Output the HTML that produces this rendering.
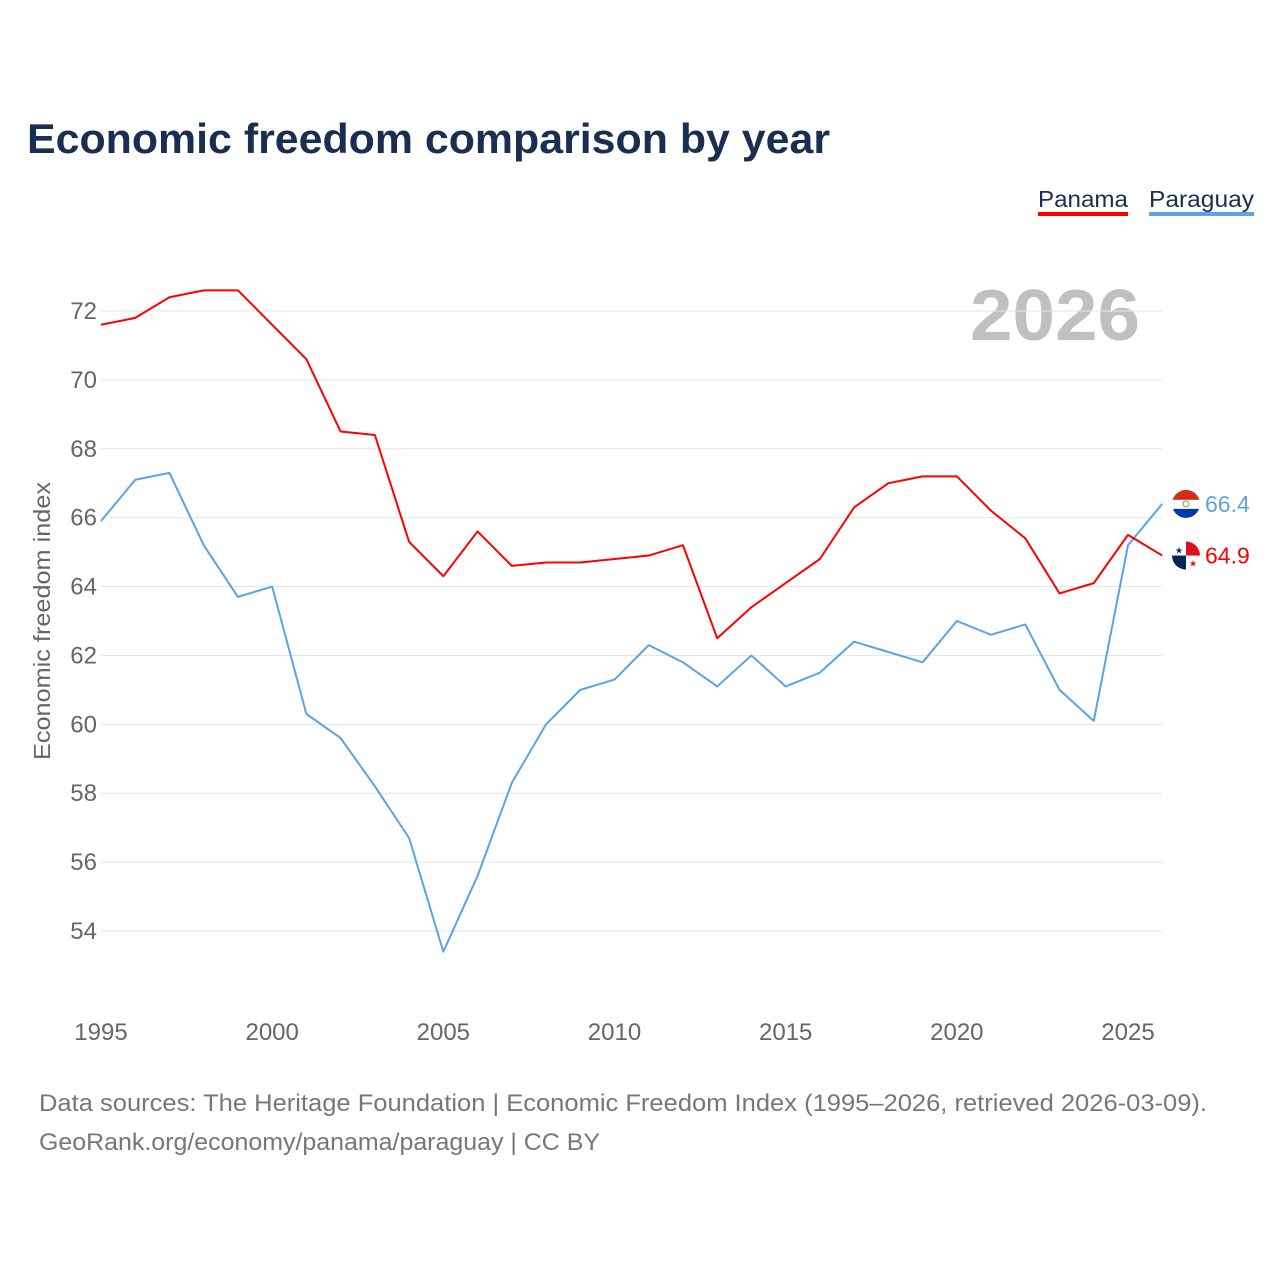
<!DOCTYPE html>
<html><head><meta charset="utf-8"><style>
body{margin:0;background:#fff;font-family:"Liberation Sans",sans-serif;}
#wrap{position:relative;width:1280px;height:1280px;overflow:hidden;}
</style></head><body>
<div id="wrap">
<svg id="chart" width="1280" height="1280"></svg>
</div>
<script>
const years=[1995,1996,1997,1998,1999,2000,2001,2002,2003,2004,2005,2006,2007,2008,2009,2010,2011,2012,2013,2014,2015,2016,2017,2018,2019,2020,2021,2022,2023,2024,2025,2026];
const panama=[71.6,71.8,72.4,72.6,72.6,71.6,70.6,68.5,68.4,65.3,64.3,65.6,64.6,64.7,64.7,64.8,64.9,65.2,62.5,63.4,64.1,64.8,66.3,67.0,67.2,67.2,66.2,65.4,63.8,64.1,65.5,64.9];
const paraguay=[65.9,67.1,67.3,65.2,63.7,64.0,60.3,59.6,58.2,56.7,53.4,55.6,58.3,60.0,61.0,61.3,62.3,61.8,61.1,62.0,61.1,61.5,62.4,62.1,61.8,63.0,62.6,62.9,61.0,60.1,65.2,66.4];
const yTicks=[54,56,58,60,62,64,66,68,70,72];
const xTicks=[1995,2000,2005,2010,2015,2020,2025];
const NS="http://www.w3.org/2000/svg";
const svg=document.getElementById('chart');
const X=y=>101+(y-1995)*(1128-101)/30;
const Y=v=>311+(72-v)*(931-311)/18;
function el(t,a,txt){const e=document.createElementNS(NS,t);for(const k in a)e.setAttribute(k,a[k]);if(txt!==undefined)e.textContent=txt;svg.appendChild(e);return e;}
const FF='"Liberation Sans",sans-serif';
let t=el('text',{x:27,y:153,'font-size':42,'font-weight':'bold',fill:'#1a2e50','font-family':FF,textLength:803,lengthAdjust:'spacingAndGlyphs'},'Economic freedom comparison by year');


t=el('text',{x:1038,y:207,'font-size':23,fill:'#1a2e50','font-family':FF,textLength:90,lengthAdjust:'spacingAndGlyphs'},'Panama');


let r=el('rect',{x:1038,y:212,width:90,height:4,fill:'#ff0000'});


t=el('text',{x:1149,y:207,'font-size':23,fill:'#1a2e50','font-family':FF,textLength:105,lengthAdjust:'spacingAndGlyphs'},'Paraguay');


r=el('rect',{x:1149,y:212,width:105,height:4,fill:'#5ba3e8'});


t=el('text',{x:1140,y:340,'font-size':72,'font-weight':'bold',fill:'#c0c0c0','text-anchor':'end','font-family':FF,textLength:170,lengthAdjust:'spacingAndGlyphs'},'2026');


yTicks.forEach(v=>{
 const g=el('line',{x1:101,x2:1162,y1:Y(v),y2:Y(v),stroke:'#e6e6e6','stroke-width':1});
 
 
 const l=el('text',{x:97,y:Y(v)+8,'font-size':24,fill:'#666','text-anchor':'end','font-family':FF},v);
 
 
});
xTicks.forEach(v=>{
 const l=el('text',{x:X(v),y:1040,'font-size':24,fill:'#666','text-anchor':'middle','font-family':FF},v);
 
 
});
t=el('text',{x:0,y:0,'font-size':23,fill:'#666','text-anchor':'middle','font-family':FF,transform:'translate(50,621) rotate(-90)',textLength:278,lengthAdjust:'spacingAndGlyphs'},'Economic freedom index');


function line(data,color,name){
 const p=el('polyline',{points:data.map((v,i)=>X(years[i])+','+Y(v)).join(' '),fill:'none',stroke:color,'stroke-width':2,'stroke-linejoin':'round'});
 
 
}
line(paraguay,'#5ba3e8','paraguay-line');
line(panama,'#ff0000','panama-line');
function endMark(data,color,name,flag){
 const v=data[data.length-1],cy=Y(v);
 const g=document.createElementNS(NS,'g');svg.appendChild(g);
 
 
 const cx=1186;
 if(flag==='py'){
  g.innerHTML=`<clipPath id="cpy"><circle cx="${cx}" cy="${cy}" r="14"/></clipPath><g clip-path="url(#cpy)"><rect x="${cx-14}" y="${cy-14}" width="28" height="10" fill="#d52b1e"/><rect x="${cx-14}" y="${cy-4}" width="28" height="9" fill="#fff"/><rect x="${cx-14}" y="${cy+5}" width="28" height="10" fill="#0038a8"/><circle cx="${cx}" cy="${cy}" r="3" fill="none" stroke="#7a9a40" stroke-width="1"/></g>`;
 } else {
  g.innerHTML=`<clipPath id="cpa"><circle cx="${cx}" cy="${cy}" r="14"/></clipPath><g clip-path="url(#cpa)"><rect x="${cx-14}" y="${cy-14}" width="28" height="28" fill="#fff"/><rect x="${cx}" y="${cy-14}" width="14" height="14" fill="#da121a"/><rect x="${cx-14}" y="${cy}" width="14" height="14" fill="#072357"/><text x="${cx-7}" y="${cy-2}" font-size="9" fill="#072357" text-anchor="middle">★</text><text x="${cx+7}" y="${cy+11}" font-size="9" fill="#da121a" text-anchor="middle">★</text></g>`;
 }
 const l=el('text',{x:1205,y:cy+8,'font-size':23,fill:color,'font-family':FF},v.toFixed(1));
 
 
}
endMark(paraguay,'#5ba3e8','paraguay','py');
endMark(panama,'#ff0000','panama','pa');
t=el('text',{x:39,y:1111,'font-size':24,fill:'#777','font-family':FF,textLength:1168,lengthAdjust:'spacingAndGlyphs'},'Data sources: The Heritage Foundation | Economic Freedom Index (1995–2026, retrieved 2026-03-09).');


t=el('text',{x:39,y:1150,'font-size':24,fill:'#777','font-family':FF,textLength:561,lengthAdjust:'spacingAndGlyphs'},'GeoRank.org/economy/panama/paraguay | CC BY');


</script>
</body></html>
